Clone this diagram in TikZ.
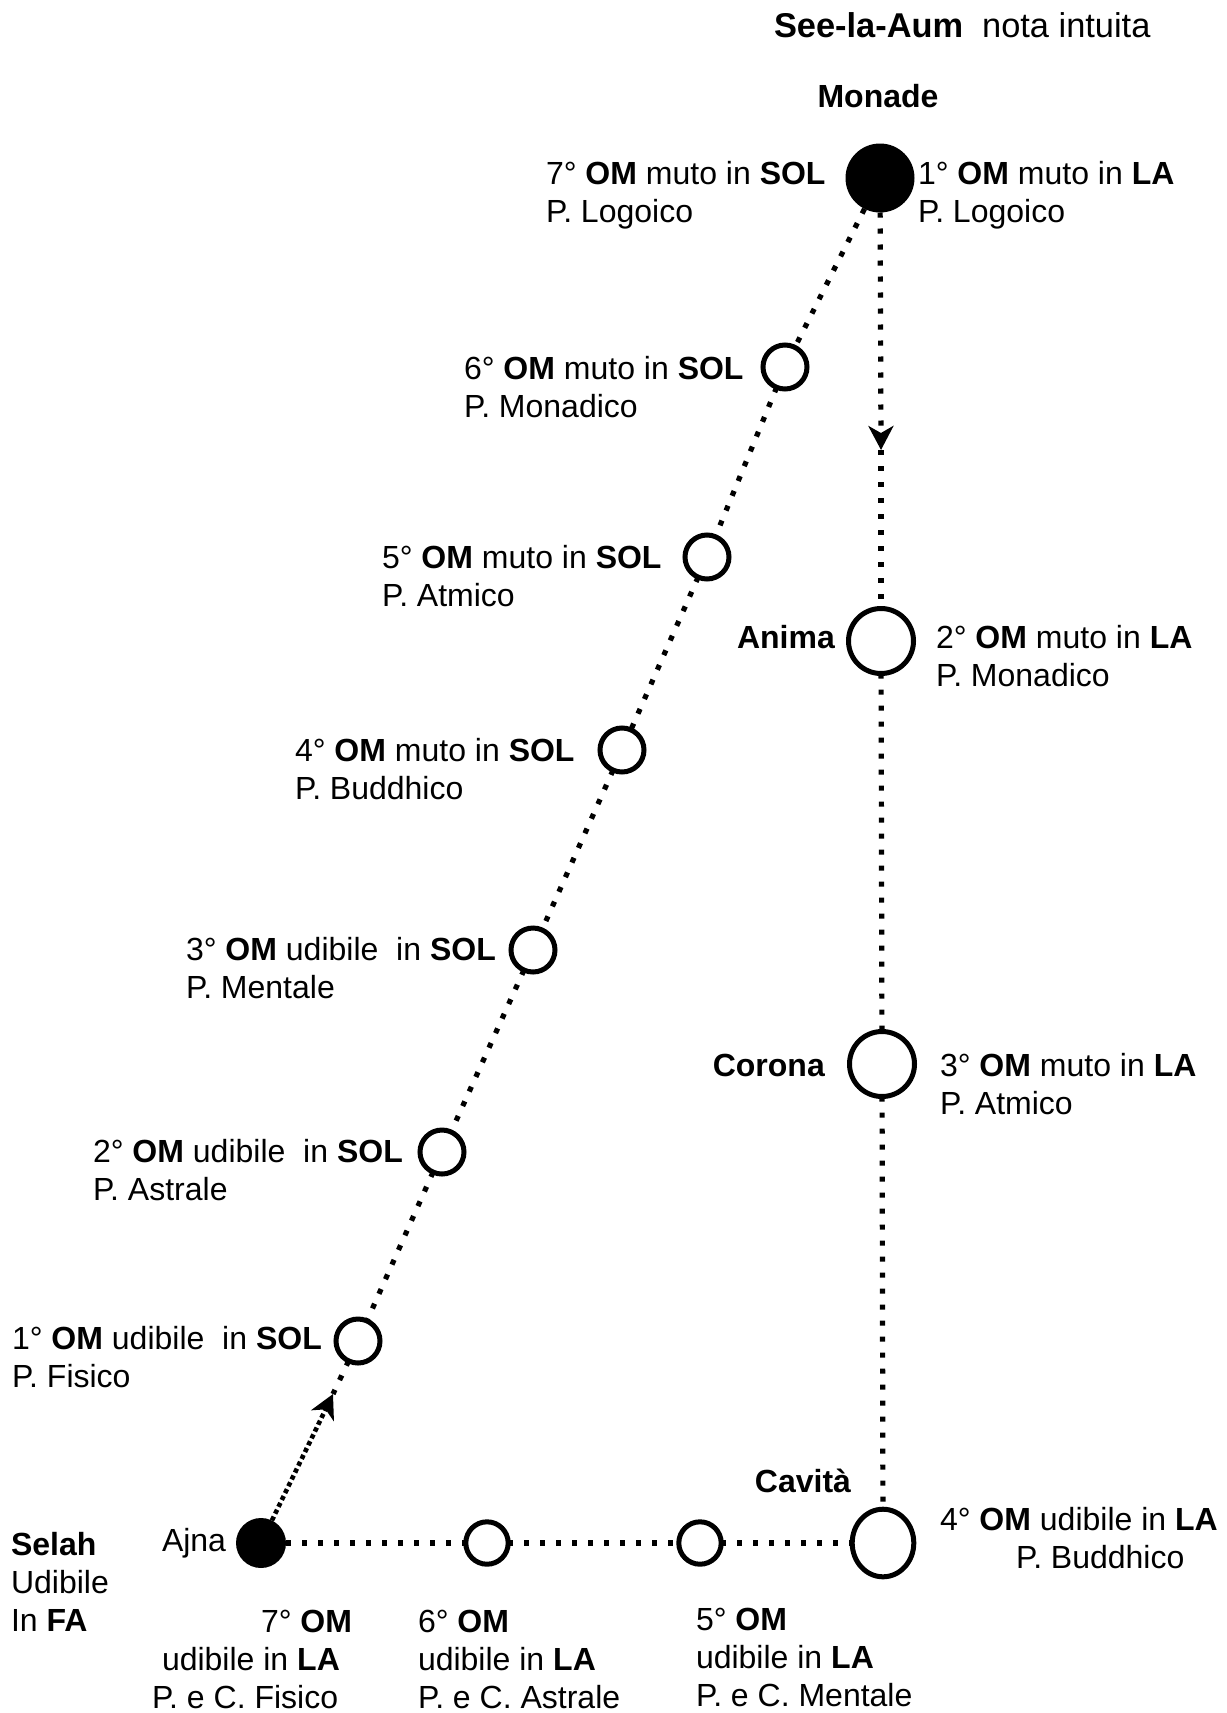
\documentclass[tikz,border=0pt]{standalone}
\usepackage{fontspec}
\setmainfont{Liberation Sans}
\usetikzlibrary{arrows.meta,shapes.geometric}
\newcommand\mylines[1]{\begin{tabular}[t]{@{}l@{}}#1\end{tabular}}
\begin{document}
\begin{tikzpicture}[x=0.5pt,y=-0.5pt,
  every node/.style={font=\fontsize{16pt}{19pt}\selectfont, inner sep=0pt, outer sep=0pt},
  lbl/.style={anchor=base west},
  smallc/.style={circle, draw, line width=2.5pt, minimum size=22pt},
  smallb/.style={circle, draw, line width=2.5pt, minimum size=21.2pt},
  bigc/.style={circle, draw, line width=2.5pt, minimum size=32.5pt},
  cavc/.style={ellipse, draw, line width=2.5pt, minimum width=30.8pt, minimum height=33.8pt},
  fillc/.style={circle, fill=black, draw=none},
  dotline/.style={line width=2.6pt, dash pattern=on 2.6pt off 5.4pt},
  densedot/.style={line width=2.3pt, dash pattern=on 2.2pt off 1.6pt},
  tip/.style={-{Stealth[length=12pt,width=12.5pt,inset=3.5pt]}}
]
\useasboundingbox (0,0) rectangle (1226,1713);

% nodes
\node[fillc, minimum size=34.5pt] (monade) at (880,178) {};
\node[smallc] (c6) at (785,367) {};
\node[smallc] (c5) at (707,557) {};
\node[smallc] (c4) at (622,750) {};
\node[smallc] (c3) at (533,950) {};
\node[smallc] (c2) at (442,1152) {};
\node[smallc] (c1) at (358,1341) {};
\node[fillc, minimum size=25pt] (ajna) at (261,1543) {};
\node[smallb] (b6) at (487,1543) {};
\node[smallb] (b5) at (700,1543) {};
\node[cavc] (cavita) at (883,1543) {};
\node[bigc] (anima) at (881,641) {};
\node[bigc] (corona) at (882,1064) {};

\coordinate (tipm) at (881,450);
\coordinate (tipa) at (333,1394);

% connectors
\draw[dotline] (monade) -- (c6);
\draw[dotline] (c6) -- (c5);
\draw[dotline] (c5) -- (c4);
\draw[dotline] (c4) -- (c3);
\draw[dotline] (c3) -- (c2);
\draw[dotline] (c2) -- (c1);
\draw[dotline] (c1) -- (tipa);
\draw[densedot, tip] (ajna) -- (tipa);
\draw[dotline, tip] (monade) -- (tipm);
\draw[dotline] (tipm) -- (anima);
\draw[dotline] (anima) -- (corona);
\draw[dotline] (corona) -- (cavita);
\draw[dotline] (ajna) -- (b6);
\draw[dotline] (b6) -- (b5);
\draw[dotline] (b5) -- (cavita);

% texts
\node[lbl, font=\fontsize{17.2pt}{20pt}\selectfont] (title) at (774,37) {\textbf{See-la-Aum}\hspace{0.55em}nota intuita};
\node[anchor=base] (tmonade) at (878,107) {\textbf{Monade}};
\node[lbl] (t7s) at (546,184) {\mylines{7° \textbf{OM} muto in \textbf{SOL}\\P. Logoico}};
\node[lbl] (t1l) at (918,184) {\mylines{1° \textbf{OM} muto in \textbf{LA}\\P. Logoico}};
\node[lbl] (t6s) at (464,379) {\mylines{6° \textbf{OM} muto in \textbf{SOL}\\P. Monadico}};
\node[lbl] (t5s) at (382,568) {\mylines{5° \textbf{OM} muto in \textbf{SOL}\\P. Atmico}};
\node[lbl] (t4s) at (295,761) {\mylines{4° \textbf{OM} muto in \textbf{SOL}\\P. Buddhico}};
\node[lbl] (t3s) at (186,960) {\mylines{3° \textbf{OM} udibile\ \ in \textbf{SOL}\\P. Mentale}};
\node[lbl] (t2s) at (93,1162) {\mylines{2° \textbf{OM} udibile\ \ in \textbf{SOL}\\P. Astrale}};
\node[lbl] (t1s) at (12,1349) {\mylines{1° \textbf{OM} udibile\ \ in \textbf{SOL}\\P. Fisico}};
\node[anchor=base east] (tanima) at (835,648) {\textbf{Anima}};
\node[lbl] (t2l) at (936,648) {\mylines{2° \textbf{OM} muto in \textbf{LA}\\P. Monadico}};
\node[anchor=base east] (tcorona) at (825,1076) {\textbf{Corona}};
\node[lbl] (t3l) at (940,1076) {\mylines{3° \textbf{OM} muto in \textbf{LA}\\P. Atmico}};
\node[anchor=base] (tcavita) at (803,1492) {\textbf{Cavità}};
\node[lbl] (t4l) at (940,1530) {\mylines{4° \textbf{OM} udibile in \textbf{LA}\\\hspace*{38pt}P. Buddhico}};
\node[lbl] (tajna) at (162,1551) {Ajna};
\node[lbl] (tselah) at (11,1555) {\mylines{\textbf{Selah}\\Udibile\\In \textbf{FA}}};
\node[lbl] (t7l) at (152,1632) {\mylines{\hspace*{54.5pt}7° \textbf{OM}\\\hspace*{5pt}udibile in \textbf{LA}\\P. e C. Fisico}};
\node[lbl] (t6l) at (418,1632) {\mylines{6° \textbf{OM}\\udibile in \textbf{LA}\\P. e C. Astrale}};
\node[lbl] (t5l) at (696,1630) {\mylines{5° \textbf{OM}\\udibile in \textbf{LA}\\P. e C. Mentale}};
\end{tikzpicture}
\end{document}
